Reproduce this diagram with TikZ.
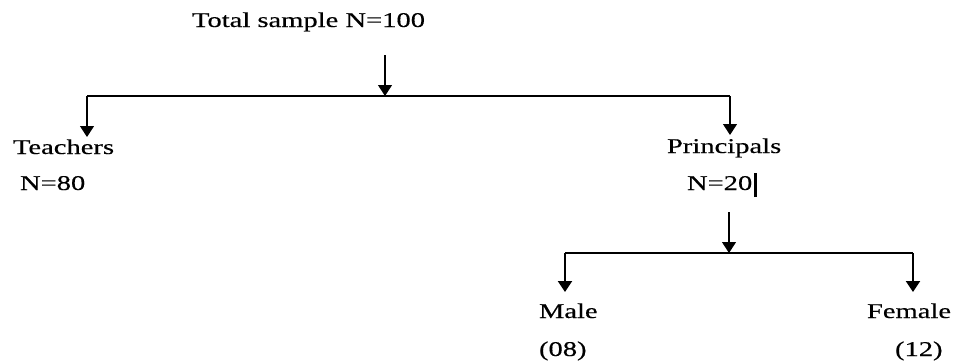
\documentclass[tikz,border=0pt]{standalone}
\usepackage{fontspec}
\setmainfont[FakeStretch=1.36,FakeBold=0.4]{Liberation Serif}
\usetikzlibrary{arrows.meta}
\begin{document}
\begin{tikzpicture}[x=1pt,y=-1pt,
  lbl/.style={anchor=base west,inner sep=0pt,outer sep=0pt,font=\fontsize{21}{25}\selectfont},
  thin/.style={line width=1.1pt},
  thick/.style={line width=2pt},
  tip/.style={-{Triangle[width=14pt,length=11pt]}}]
\useasboundingbox (0,0) rectangle (954,362);
% texts
\node[lbl] (total) at (192,27) {Total sample N=100};
\node[lbl] (teach) at (13,154) {Teachers};
\node[lbl] (n80) at (20,190) {N=80};
\node[lbl] (princ) at (667,153) {Principals};
\node[lbl] (n20) at (687,190) {N=20\hspace{1.5pt}\rule[-7pt]{3pt}{24pt}};
\node[lbl] (male) at (539,318) {Male};
\node[lbl] (m08) at (539,356) {(08)};
\node[lbl] (female) at (867,318) {Female};
\node[lbl] (f12) at (895,356) {(12)};
% connector points
\coordinate (s1) at (385,55);
\coordinate (j1) at (385,96);
\coordinate (l1) at (87,96);
\coordinate (r1) at (730,96);
\coordinate (lt) at (87,137);
\coordinate (rt) at (730,135);
\coordinate (s2) at (729,212);
\coordinate (j2) at (729,253);
\coordinate (l2) at (565,253);
\coordinate (r2) at (913,253);
\coordinate (lt2) at (565,292);
\coordinate (rt2) at (913,292);
% top level
\draw[thin,tip] (s1) -- (j1);
\draw[thin] (l1) -- (r1);
\draw[thin,tip] (l1) -- (lt);
\draw[thin,tip] (r1) -- (rt);
% second level
\draw[thin,tip] (s2) -- (j2);
\draw[thick] (l2) -- (r2);
\draw[thick,tip] (l2) -- (lt2);
\draw[thick,tip] (r2) -- (rt2);
\end{tikzpicture}
\end{document}
